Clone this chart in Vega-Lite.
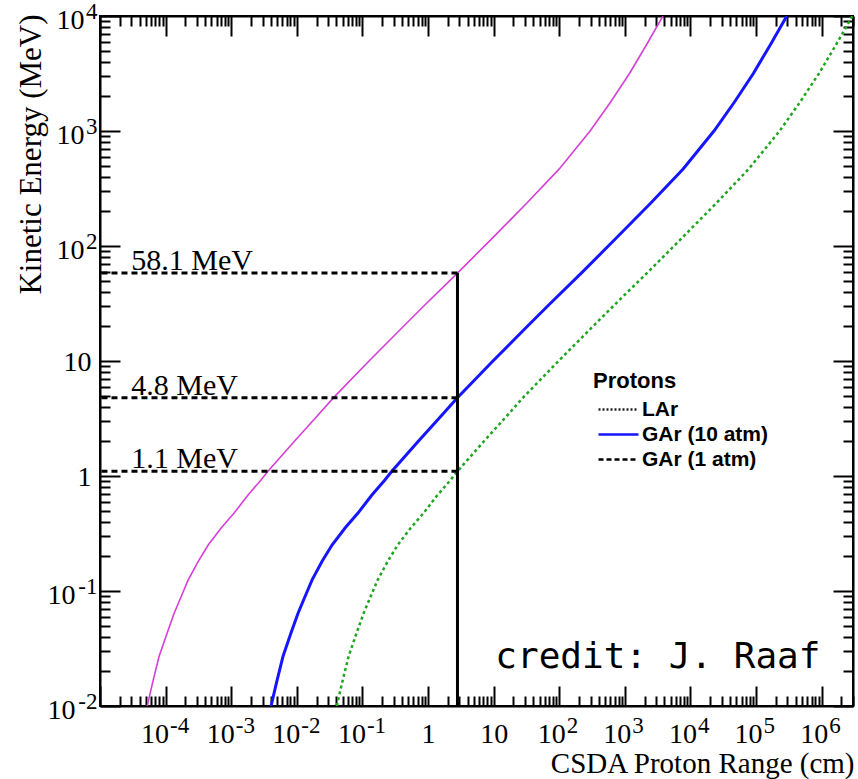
{
  "$schema": "https://vega.github.io/schema/vega-lite/v6.json",
  "width": 753,
  "height": 690,
  "autosize": {"type": "none"},
  "padding": {"left": 100, "top": 16, "right": 5, "bottom": 73},
  "background": "white",
  "config": {
    "view": {"stroke": "black", "strokeWidth": 2},
    "axis": {"grid": false}
  },
  "datasets": {
    "curves": [
      {"series": "LAr", "range": 5.25e-5, "energy": 0.01},
      {"series": "LAr", "range": 6.31e-5, "energy": 0.0158},
      {"series": "LAr", "range": 7.94e-5, "energy": 0.0269},
      {"series": "LAr", "range": 1.05e-4, "energy": 0.0427},
      {"series": "LAr", "range": 1.355e-4, "energy": 0.0644},
      {"series": "LAr", "range": 1.78e-4, "energy": 0.0933},
      {"series": "LAr", "range": 2.21e-4, "energy": 0.125},
      {"series": "LAr", "range": 3.16e-4, "energy": 0.182},
      {"series": "LAr", "range": 4.46e-4, "energy": 0.251},
      {"series": "LAr", "range": 7.08e-4, "energy": 0.355},
      {"series": "LAr", "range": 1.107e-3, "energy": 0.476},
      {"series": "LAr", "range": 1.78e-3, "energy": 0.676},
      {"series": "LAr", "range": 2.84e-3, "energy": 0.923},
      {"series": "LAr", "range": 3.63e-3, "energy": 1.1},
      {"series": "LAr", "range": 9.12e-3, "energy": 1.995},
      {"series": "LAr", "range": 0.0189, "energy": 3.16},
      {"series": "LAr", "range": 0.0363, "energy": 4.8},
      {"series": "LAr", "range": 0.126, "energy": 10},
      {"series": "LAr", "range": 0.42, "energy": 19.95},
      {"series": "LAr", "range": 0.942, "energy": 31.6},
      {"series": "LAr", "range": 2.81, "energy": 58.1},
      {"series": "LAr", "range": 10, "energy": 120.2},
      {"series": "LAr", "range": 31.6, "energy": 234},
      {"series": "LAr", "range": 100, "energy": 468},
      {"series": "LAr", "range": 295, "energy": 1000},
      {"series": "LAr", "range": 603, "energy": 1778},
      {"series": "LAr", "range": 1175, "energy": 3162},
      {"series": "LAr", "range": 2138, "energy": 5623},
      {"series": "LAr", "range": 3802, "energy": 10000},
      {"series": "GAr (10 atm)", "range": 4.05e-3, "energy": 0.01},
      {"series": "GAr (10 atm)", "range": 4.88e-3, "energy": 0.0158},
      {"series": "GAr (10 atm)", "range": 6.14e-3, "energy": 0.0269},
      {"series": "GAr (10 atm)", "range": 8.09e-3, "energy": 0.0427},
      {"series": "GAr (10 atm)", "range": 0.01047, "energy": 0.0644},
      {"series": "GAr (10 atm)", "range": 0.01374, "energy": 0.0933},
      {"series": "GAr (10 atm)", "range": 0.0171, "energy": 0.125},
      {"series": "GAr (10 atm)", "range": 0.0244, "energy": 0.182},
      {"series": "GAr (10 atm)", "range": 0.0344, "energy": 0.251},
      {"series": "GAr (10 atm)", "range": 0.0547, "energy": 0.355},
      {"series": "GAr (10 atm)", "range": 0.0855, "energy": 0.476},
      {"series": "GAr (10 atm)", "range": 0.1374, "energy": 0.676},
      {"series": "GAr (10 atm)", "range": 0.2198, "energy": 0.923},
      {"series": "GAr (10 atm)", "range": 0.2805, "energy": 1.1},
      {"series": "GAr (10 atm)", "range": 0.705, "energy": 1.995},
      {"series": "GAr (10 atm)", "range": 1.462, "energy": 3.16},
      {"series": "GAr (10 atm)", "range": 2.805, "energy": 4.8},
      {"series": "GAr (10 atm)", "range": 9.75, "energy": 10},
      {"series": "GAr (10 atm)", "range": 32.4, "energy": 19.95},
      {"series": "GAr (10 atm)", "range": 72.8, "energy": 31.6},
      {"series": "GAr (10 atm)", "range": 216.8, "energy": 58.1},
      {"series": "GAr (10 atm)", "range": 772.7, "energy": 120.2},
      {"series": "GAr (10 atm)", "range": 2443, "energy": 234},
      {"series": "GAr (10 atm)", "range": 7727, "energy": 468},
      {"series": "GAr (10 atm)", "range": 22800, "energy": 1000},
      {"series": "GAr (10 atm)", "range": 46560, "energy": 1778},
      {"series": "GAr (10 atm)", "range": 90780, "energy": 3162},
      {"series": "GAr (10 atm)", "range": 165200, "energy": 5623},
      {"series": "GAr (10 atm)", "range": 293800, "energy": 10000},
      {"series": "GAr (1 atm)", "range": 0.0406, "energy": 0.01},
      {"series": "GAr (1 atm)", "range": 0.0488, "energy": 0.0158},
      {"series": "GAr (1 atm)", "range": 0.0614, "energy": 0.0269},
      {"series": "GAr (1 atm)", "range": 0.0809, "energy": 0.0427},
      {"series": "GAr (1 atm)", "range": 0.1047, "energy": 0.0644},
      {"series": "GAr (1 atm)", "range": 0.1374, "energy": 0.0933},
      {"series": "GAr (1 atm)", "range": 0.171, "energy": 0.125},
      {"series": "GAr (1 atm)", "range": 0.244, "energy": 0.182},
      {"series": "GAr (1 atm)", "range": 0.344, "energy": 0.251},
      {"series": "GAr (1 atm)", "range": 0.547, "energy": 0.355},
      {"series": "GAr (1 atm)", "range": 0.855, "energy": 0.476},
      {"series": "GAr (1 atm)", "range": 1.374, "energy": 0.676},
      {"series": "GAr (1 atm)", "range": 2.198, "energy": 0.923},
      {"series": "GAr (1 atm)", "range": 2.805, "energy": 1.1},
      {"series": "GAr (1 atm)", "range": 7.05, "energy": 1.995},
      {"series": "GAr (1 atm)", "range": 14.62, "energy": 3.16},
      {"series": "GAr (1 atm)", "range": 28.05, "energy": 4.8},
      {"series": "GAr (1 atm)", "range": 97.5, "energy": 10},
      {"series": "GAr (1 atm)", "range": 324, "energy": 19.95},
      {"series": "GAr (1 atm)", "range": 728, "energy": 31.6},
      {"series": "GAr (1 atm)", "range": 2168, "energy": 58.1},
      {"series": "GAr (1 atm)", "range": 7727, "energy": 120.2},
      {"series": "GAr (1 atm)", "range": 24430, "energy": 234},
      {"series": "GAr (1 atm)", "range": 77270, "energy": 468},
      {"series": "GAr (1 atm)", "range": 228000, "energy": 1000},
      {"series": "GAr (1 atm)", "range": 465600, "energy": 1778},
      {"series": "GAr (1 atm)", "range": 907800, "energy": 3162},
      {"series": "GAr (1 atm)", "range": 1652000, "energy": 5623},
      {"series": "GAr (1 atm)", "range": 2938000, "energy": 10000}
    ],
    "levels": [
      {"energy": 58.1, "label": "58.1 MeV", "range": 2.81},
      {"energy": 4.8, "label": "4.8 MeV", "range": 2.81},
      {"energy": 1.1, "label": "1.1 MeV", "range": 2.81}
    ],
    "credit": [
      {"text": "credit: J. Raaf", "range": 3185, "energy": 0.0267}
    ]
  },
  "resolve": {"axis": {"x": "independent", "y": "independent"}},
  "layer": [
    {
      "data": {"name": "curves"},
      "transform": [{"filter": "datum.series == 'LAr'"}],
      "mark": {"type": "line", "color": "#d53fd5", "strokeWidth": 1.6, "clip": true},
      "encoding": {
        "x": {
          "field": "range", "type": "quantitative",
          "scale": {"type": "log", "domain": [1e-5, 3000000], "nice": false, "zero": false},
          "axis": {
            "orient": "bottom",
            "values": [1e-5,2e-5,3e-5,4e-5,5e-5,6e-5,7e-5,8e-5,9e-5,1e-4,2e-4,3e-4,4e-4,5e-4,6e-4,7e-4,8e-4,9e-4,0.001,0.002,0.003,0.004,0.005,0.006,0.007,0.008,0.009,0.01,0.02,0.03,0.04,0.05,0.06,0.07,0.08,0.09,0.1,0.2,0.3,0.4,0.5,0.6,0.7,0.8,0.9,1,2,3,4,5,6,7,8,9,10,20,30,40,50,60,70,80,90,100,200,300,400,500,600,700,800,900,1000,2000,3000,4000,5000,6000,7000,8000,9000,10000,20000,30000,40000,50000,60000,70000,80000,90000,100000,200000,300000,400000,500000,600000,700000,800000,900000,1000000,2000000,3000000],
            "labelExpr": "abs(log(datum.value)/LN10 - round(log(datum.value)/LN10)) > 0.01 || datum.value < 5e-5 ? '' : (datum.value > 0.5 && datum.value < 2 ? '1' : '10')",
            "labelFont": "Liberation Serif", "labelFontSize": 28, "labelColor": "black",
            "labelPadding": 34, "labelOverlap": false, "labelFlush": false, "labelBound": false,
            "labelAlign": {"condition": {"test": "datum.value > 0.5 && datum.value < 20", "value": "center"}, "value": "right"},
            "labelOffset": {"condition": [{"test": "datum.value > 0.5 && datum.value < 20", "value": 0}, {"test": "datum.value < 0.5", "value": 3}], "value": 6},
            "tickColor": "black", "tickWidth": 2,
            "tickSize": {"condition": {"test": "abs(log(datum.value)/LN10 - round(log(datum.value)/LN10)) < 0.01", "value": -20}, "value": -10},
            "domainColor": "black", "domainWidth": 2, "grid": false,
            "title": "CSDA Proton Range (cm)",
            "titleFont": "Liberation Serif", "titleFontSize": 29, "titleFontWeight": "normal", "titleColor": "black",
            "titleAnchor": "end", "titleAlign": "right", "titleBaseline": "alphabetic", "titleX": 754, "titleY": 66
          }
        },
        "y": {
          "field": "energy", "type": "quantitative",
          "scale": {"type": "log", "domain": [0.01, 10000], "nice": false, "zero": false},
          "axis": {
            "orient": "left",
            "values": [0.01,0.02,0.03,0.04,0.05,0.06,0.07,0.08,0.09,0.1,0.2,0.3,0.4,0.5,0.6,0.7,0.8,0.9,1,2,3,4,5,6,7,8,9,10,20,30,40,50,60,70,80,90,100,200,300,400,500,600,700,800,900,1000,2000,3000,4000,5000,6000,7000,8000,9000,10000],
            "labelExpr": "abs(log(datum.value)/LN10 - round(log(datum.value)/LN10)) > 0.01 ? '' : (datum.value > 0.5 && datum.value < 2 ? '1' : '10')",
            "labelFont": "Liberation Serif", "labelFontSize": 28, "labelColor": "black",
            "labelPadding": {"condition": [{"test": "datum.value > 0.5 && datum.value < 20", "value": 29}, {"test": "datum.value < 0.5", "value": 45}], "value": 36},
            "labelOffset": {"condition": {"test": "datum.value > 0.5 && datum.value < 20", "value": 1}, "value": 4},
            "labelOverlap": false, "labelFlush": false, "labelBound": false,
            "tickColor": "black", "tickWidth": 2,
            "tickSize": {"condition": {"test": "abs(log(datum.value)/LN10 - round(log(datum.value)/LN10)) < 0.01", "value": -20}, "value": -10},
            "domainColor": "black", "domainWidth": 2, "grid": false,
            "title": "Kinetic Energy (MeV)",
            "titleFont": "Liberation Serif", "titleFontSize": 31, "titleFontWeight": "normal", "titleColor": "black",
            "titleAnchor": "end", "titleAngle": -90, "titleAlign": "right", "titleBaseline": "alphabetic", "titleX": -60, "titleY": -2
          }
        }
      }
    },
    {
      "data": {"name": "curves"},
      "transform": [{"filter": "datum.series == 'GAr (10 atm)'"}],
      "mark": {"type": "line", "color": "#1515ff", "strokeWidth": 3, "clip": true},
      "encoding": {
        "x": {
          "field": "range", "type": "quantitative",
          "axis": {
            "orient": "top",
            "values": [1e-5,2e-5,3e-5,4e-5,5e-5,6e-5,7e-5,8e-5,9e-5,1e-4,2e-4,3e-4,4e-4,5e-4,6e-4,7e-4,8e-4,9e-4,0.001,0.002,0.003,0.004,0.005,0.006,0.007,0.008,0.009,0.01,0.02,0.03,0.04,0.05,0.06,0.07,0.08,0.09,0.1,0.2,0.3,0.4,0.5,0.6,0.7,0.8,0.9,1,2,3,4,5,6,7,8,9,10,20,30,40,50,60,70,80,90,100,200,300,400,500,600,700,800,900,1000,2000,3000,4000,5000,6000,7000,8000,9000,10000,20000,30000,40000,50000,60000,70000,80000,90000,100000,200000,300000,400000,500000,600000,700000,800000,900000,1000000,2000000,3000000],
            "labels": false, "title": null,
            "tickColor": "black", "tickWidth": 2,
            "tickSize": {"condition": {"test": "abs(log(datum.value)/LN10 - round(log(datum.value)/LN10)) < 0.01", "value": -20}, "value": -10},
            "domainColor": "black", "domainWidth": 2, "grid": false
          }
        },
        "y": {
          "field": "energy", "type": "quantitative",
          "axis": {
            "orient": "right",
            "values": [0.01,0.02,0.03,0.04,0.05,0.06,0.07,0.08,0.09,0.1,0.2,0.3,0.4,0.5,0.6,0.7,0.8,0.9,1,2,3,4,5,6,7,8,9,10,20,30,40,50,60,70,80,90,100,200,300,400,500,600,700,800,900,1000,2000,3000,4000,5000,6000,7000,8000,9000,10000],
            "labels": false, "title": null,
            "tickColor": "black", "tickWidth": 2,
            "tickSize": {"condition": {"test": "abs(log(datum.value)/LN10 - round(log(datum.value)/LN10)) < 0.01", "value": -20}, "value": -10},
            "domainColor": "black", "domainWidth": 2, "grid": false
          }
        }
      }
    },
    {
      "data": {"name": "curves"},
      "transform": [{"filter": "datum.series == 'GAr (1 atm)'"}],
      "mark": {"type": "line", "color": "#1ea51e", "strokeWidth": 2.5, "strokeDash": [3, 3], "clip": true},
      "encoding": {
        "x": {
          "field": "range", "type": "quantitative",
          "axis": {
            "orient": "bottom",
            "values": [1e-4, 0.001, 0.01, 0.1, 100, 1000, 10000, 100000, 1000000],
            "labelExpr": "datum.value < 0.5 ? '-' + round(-log(datum.value)/LN10) : '' + round(log(datum.value)/LN10)",
            "labelFont": "Liberation Serif", "labelFontSize": 23, "labelColor": "black",
            "labelPadding": 8, "labelAlign": "left",
            "labelOffset": {"condition": {"test": "datum.value < 0.5", "value": 4}, "value": 7},
            "labelOverlap": false, "labelFlush": false, "labelBound": false,
            "ticks": false, "tickSize": 0, "domain": false, "grid": false, "title": null
          }
        },
        "y": {
          "field": "energy", "type": "quantitative",
          "axis": {
            "orient": "left",
            "values": [0.01, 0.1, 100, 1000, 10000],
            "labelExpr": "datum.value < 0.5 ? '-' + round(-log(datum.value)/LN10) : '' + round(log(datum.value)/LN10)",
            "labelFont": "Liberation Serif", "labelFontSize": 23, "labelColor": "black",
            "labelPadding": 3, "labelAlign": "right", "labelOffset": -5,
            "labelOverlap": false, "labelFlush": false, "labelBound": false,
            "ticks": false, "tickSize": 0, "domain": false, "grid": false, "title": null
          }
        }
      }
    },
    {
      "data": {"name": "levels"},
      "mark": {"type": "rule", "color": "black", "strokeWidth": 3, "strokeDash": [6, 4]},
      "encoding": {
        "x": {"field": "range", "type": "quantitative", "axis": null},
        "x2": {"datum": 1e-5},
        "y": {"field": "energy", "type": "quantitative", "axis": null}
      }
    },
    {
      "data": {"name": "levels"},
      "transform": [{"filter": "datum.energy == 58.1"}],
      "mark": {"type": "rule", "color": "black", "strokeWidth": 3},
      "encoding": {
        "x": {"field": "range", "type": "quantitative", "axis": null},
        "y": {"field": "energy", "type": "quantitative", "axis": null},
        "y2": {"datum": 0.01}
      }
    },
    {
      "data": {"name": "levels"},
      "mark": {"type": "text", "align": "left", "baseline": "alphabetic", "dy": -3, "font": "Liberation Serif", "fontSize": 30, "color": "black"},
      "encoding": {
        "x": {"datum": 3e-5, "type": "quantitative", "axis": null},
        "y": {"field": "energy", "type": "quantitative", "axis": null},
        "text": {"field": "label", "type": "nominal"}
      }
    },
    {
      "data": {"name": "credit"},
      "mark": {"type": "text", "align": "center", "baseline": "middle", "font": "DejaVu Sans Mono", "fontSize": 36, "color": "black"},
      "encoding": {
        "x": {"field": "range", "type": "quantitative", "axis": null},
        "y": {"field": "energy", "type": "quantitative", "axis": null},
        "text": {"field": "text", "type": "nominal"}
      }
    },
    {
      "data": {"name": "curves"},
      "transform": [{"filter": "false"}],
      "mark": {"type": "line", "strokeWidth": 2.5},
      "encoding": {
        "x": {"field": "range", "type": "quantitative", "axis": null},
        "y": {"field": "energy", "type": "quantitative", "axis": null},
        "color": {
          "field": "series", "type": "nominal",
          "scale": {"domain": ["LAr", "GAr (10 atm)", "GAr (1 atm)"], "range": ["#222222", "#1515ff", "#000000"]},
          "legend": {
            "title": "Protons", "orient": "none", "legendX": 493, "legendY": 355, "padding": 0,
            "titleFont": "Liberation Sans", "titleFontSize": 22, "titleFontWeight": "bold", "titleColor": "black", "titlePadding": 6,
            "labelFont": "Liberation Sans", "labelFontSize": 21, "labelFontWeight": "bold", "labelColor": "black",
            "symbolType": "M-1,0H7", "symbolSize": 100, "symbolStrokeWidth": 2.5, "labelOffset": 28, "rowPadding": 3
          }
        },
        "strokeDash": {
          "field": "series", "type": "nominal",
          "scale": {"domain": ["LAr", "GAr (10 atm)", "GAr (1 atm)"], "range": [[2, 2], [1, 0], [5, 3]]},
          "legend": {
            "title": "Protons", "orient": "none", "legendX": 493, "legendY": 355, "padding": 0,
            "titleFont": "Liberation Sans", "titleFontSize": 22, "titleFontWeight": "bold", "titleColor": "black", "titlePadding": 6,
            "labelFont": "Liberation Sans", "labelFontSize": 21, "labelFontWeight": "bold", "labelColor": "black",
            "symbolType": "M-1,0H7", "symbolSize": 100, "symbolStrokeWidth": 2.5, "labelOffset": 28, "rowPadding": 3
          }
        }
      }
    }
  ]
}
